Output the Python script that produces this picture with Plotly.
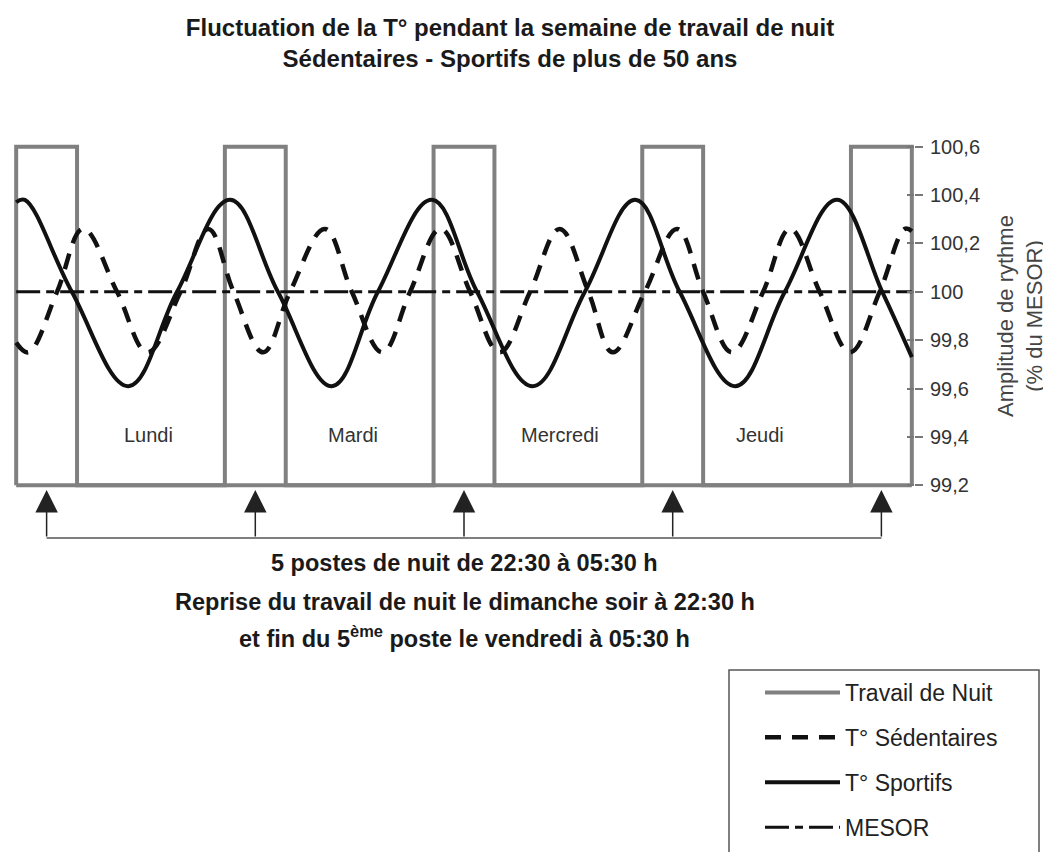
import plotly.graph_objects as go

# ---------------- data (x = hours since Sunday 22:30) ----------------
night_start = [0, 24, 48, 72, 96]
night_end = [7, 31, 55, 79, 103]
night_label = "Travail de Nuit"

sportifs_h = [0.0, 1.0, 6.4, 12.9, 18.5, 24.6, 30.1, 36.3, 41.6, 47.8,
              53.0, 59.4, 65.4, 71.2, 76.3, 82.7, 88.4, 94.4, 99.6, 103.0]
sportifs_v = [100.37, 100.38, 100.0, 99.61, 100.0, 100.38, 100.0, 99.61, 100.0, 100.38,
              100.0, 99.61, 100.0, 100.38, 100.0, 99.61, 100.0, 100.38, 100.0, 99.73]

sedentaires_h = [0.0, 1.4, 4.7, 7.7, 11.6, 15.1, 18.9, 22.1, 25.0, 28.4,
                 31.5, 35.5, 38.6, 42.1, 45.3, 48.8, 52.2, 55.6, 59.1, 62.5,
                 65.8, 68.6, 72.3, 76.0, 79.0, 82.3, 85.9, 89.0, 92.4, 95.9,
                 99.3, 102.2, 103.0]
sedentaires_v = [99.79, 99.75, 100.0, 100.26, 100.0, 99.75, 100.0, 100.26, 100.0, 99.75,
                 100.0, 100.26, 100.0, 99.75, 100.0, 100.26, 100.0, 99.75, 100.0, 100.26,
                 100.0, 99.75, 100.0, 100.26, 100.0, 99.75, 100.0, 100.26, 100.0, 99.75,
                 100.0, 100.26, 100.25]

mesor_h = [0, 103]
mesor_v = [100.0, 100.0]

y_ticks = [99.2, 99.4, 99.6, 99.8, 100.0, 100.2, 100.4, 100.6]
y_low, y_high = 99.2, 100.6

days = ["Lundi", "Mardi", "Mercredi", "Jeudi"]
day_h = [15.2, 38.7, 62.5, 85.5]

title_lines = ["Fluctuation de la T° pendant la semaine de travail de nuit",
               "Sédentaires - Sportifs de plus de 50 ans"]
note_lines = ["5 postes de nuit de 22:30 à 05:30 h",
              "Reprise du travail de nuit le dimanche soir à 22:30 h",
              "et fin du 5<sup>ème</sup> poste le vendredi à 05:30 h"]
yaxis_title = "Amplitude de rythme<br>(% du MESOR)"

# ---------------- layout geometry ----------------
OFF = 8                      # page body margin of the html page
W, H = 1051 - OFF, 852 - OFF
ML, MR, MT, MB = 6, 137, 135, 363
PW, PH = W - ML - MR, H - MT - MB


def px(xp):
    """page pixel x -> paper x"""
    return (xp - OFF - ML) / PW


def py(yp):
    """page pixel y -> paper y"""
    return (H - MB - (yp - OFF)) / PH


FONT = "Liberation Sans, Arial, sans-serif"
GRAY = "#808080"
BLACK = "#111111"

# night-work rectangles + continuous baseline
nx, ny = [], []
for s, e in zip(night_start, night_end):
    nx += [s, s, e, e]
    ny += [y_low, y_high, y_high, y_low]
nx += [None, night_start[0], night_end[-1]]
ny += [None, y_low, y_low]

fig = go.Figure()
fig.add_trace(go.Scatter(x=nx, y=ny, mode="lines", name=night_label,
                         line=dict(color=GRAY, width=4), legendgroup="g1",
                         legendrank=1, hoverinfo="skip"))
fig.add_trace(go.Scatter(x=mesor_h, y=mesor_v, mode="lines", name="MESOR",
                         line=dict(color=BLACK, width=3, dash="24px,6px,8px,6px"),
                         legendgroup="g4", legendrank=4))
fig.add_trace(go.Scatter(x=sedentaires_h, y=sedentaires_v, mode="lines",
                         name="T° Sédentaires",
                         line=dict(color=BLACK, width=4.5, dash="16px,11px",
                                   shape="spline", smoothing=1.1),
                         legendgroup="g2", legendrank=2))
fig.add_trace(go.Scatter(x=sportifs_h, y=sportifs_v, mode="lines",
                         name="T° Sportifs",
                         line=dict(color=BLACK, width=4, shape="spline", smoothing=1.1),
                         legendgroup="g3", legendrank=3))
# helper trace so that the overlay axis (inner tick marks) is drawn
fig.add_trace(go.Scatter(x=[mesor_h[0]], y=[mesor_v[0]], yaxis="y2", mode="markers",
                         marker=dict(opacity=0), showlegend=False, hoverinfo="skip"))

annotations = []
for d, h in zip(days, day_h):
    annotations.append(dict(x=h, y=99.41, xref="x", yref="y", text=d, showarrow=False,
                            font=dict(size=20, color="#333")))

mids = [(s + e) / 2 for s, e in zip(night_start, night_end)]
for m in mids:
    annotations.append(dict(x=m, y=py(490), xref="x", yref="paper", text="",
                            showarrow=True, ax=0, ay=48, axref="pixel", ayref="pixel",
                            arrowhead=2, arrowsize=3, arrowwidth=1.5,
                            arrowcolor="#222", standoff=0))

for t, yy in zip(note_lines, [563, 602, 637]):
    annotations.append(dict(x=px(465), y=py(yy), xref="paper", yref="paper", text=t,
                            showarrow=False, xanchor="center", yanchor="middle",
                            font=dict(size=23.5, color="#1a1a1a", weight="bold")))

shapes = [
    dict(type="line", xref="x", yref="paper", x0=mids[0], x1=mids[-1],
         y0=py(538), y1=py(538), line=dict(color="#555", width=1.5)),
    dict(type="rect", xref="paper", yref="paper", x0=px(729), x1=px(1039),
         y0=py(670), y1=py(880), line=dict(color="#555", width=1.5)),
]

fig.update_layout(
    width=W, height=H,
    margin=dict(l=ML, r=MR, t=MT, b=MB, autoexpand=False),
    paper_bgcolor="white", plot_bgcolor="white",
    separators=", ",
    font=dict(family=FONT, color="#222"),
    title=dict(text="<br>".join(title_lines), x=(510 - OFF) / W, xanchor="center",
               xref="container", yref="container", y=1 - (35.5 - OFF) / H,
               yanchor="middle",
               font=dict(size=24, color="#1a1a1a", weight="bold")),
    xaxis=dict(range=[-0.25, 103.25], showgrid=False, zeroline=False,
               showticklabels=False, ticks="", showline=False, fixedrange=True),
    yaxis=dict(side="right", range=[99.185, 100.615], tickvals=y_ticks,
               ticks="outside", ticklen=8, tickwidth=2, tickcolor="#777",
               showgrid=False, zeroline=False, showline=False,
               tickfont=dict(size=20, color="#333"), ticklabelstandoff=3,
               title=dict(text=yaxis_title, font=dict(size=22, color="#444"), standoff=18)),
    yaxis2=dict(overlaying="y", side="right", range=[99.185, 100.615], tickvals=y_ticks,
                ticks="inside", ticklen=7, tickwidth=2, tickcolor="#777",
                showticklabels=False, showgrid=False, zeroline=False, showline=False),
    legend=dict(x=px(760), xanchor="left", y=py(671), yanchor="top",
                font=dict(size=23, color="#222"), bgcolor="rgba(0,0,0,0)",
                borderwidth=0, itemwidth=75, tracegroupgap=12),
    annotations=annotations,
    shapes=shapes,
    showlegend=True,
)

fig.write_html("out.html")
